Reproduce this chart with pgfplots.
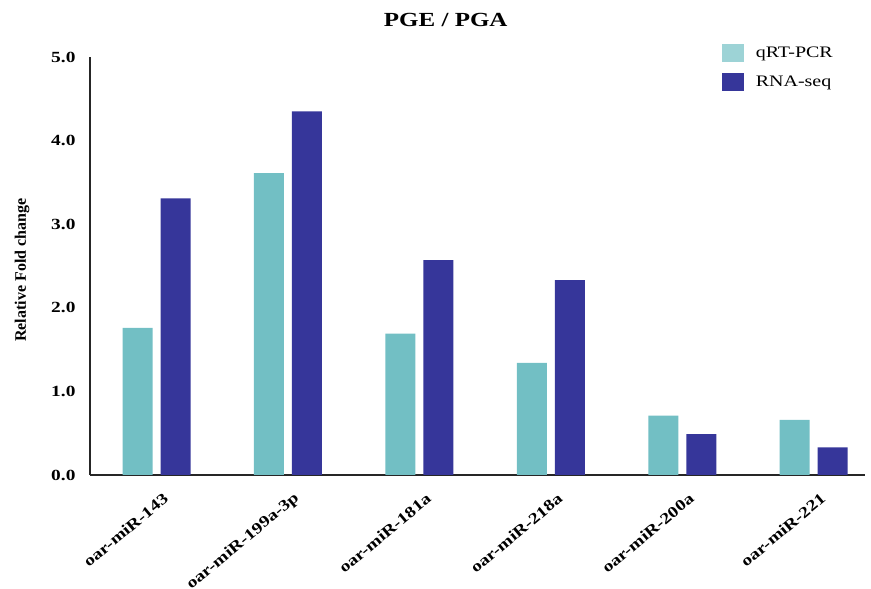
\documentclass[border=0pt]{standalone}
\usepackage{fontspec}
\setmainfont{Liberation Serif}[FakeStretch=1.25]
\newfontfamily\plainserif{Liberation Serif}
\usepackage{pgfplots}
\pgfplotsset{compat=1.18}
\definecolor{qteal}{HTML}{72BFC4}
\definecolor{qtealleg}{HTML}{9DD3D6}
\definecolor{rnavy}{HTML}{36369A}

\begin{document}
\begin{tikzpicture}
\begin{axis}[
  at={(0,0)}, anchor=south west,
  scale only axis,
  width=775pt, height=418pt,
  ybar=8pt, bar width=30pt,
  xmin=-0.506, xmax=5.39,
  ymin=0, ymax=5,
  xtick=data,
  xticklabels={oar-miR-143,oar-miR-199a-3p,oar-miR-181a,oar-miR-218a,oar-miR-200a,oar-miR-221},
  ytick={0,1,2,3,4,5},
  yticklabels={0.0,1.0,2.0,3.0,4.0,5.0},
  axis lines*=left,
  axis line style={-, line width=1.2pt, color=black!85},
  major tick length=0pt,
  tick label style={font=\fontsize{15.5}{18}\selectfont\bfseries},
  xticklabel style={xshift=12pt, yshift=-19pt, rotate=40, anchor=east},
  yticklabel style={xshift=-11pt},
  title={PGE / PGA},
  title style={font=\fontsize{20}{24}\selectfont\bfseries, at={(0.459,1)}, anchor=center, yshift=31pt},
  ylabel={Relative Fold change},
  ylabel style={font=\plainserif\fontsize{16}{18}\selectfont\bfseries, at={(rel axis cs:0,0.49)}, anchor=center, yshift=68pt},
  legend style={at={(rel axis cs:0.815,1.031)}, anchor=north west, draw=none, fill=none,
    inner sep=0pt, row sep=11pt, font=\fontsize{16}{18}\selectfont,
    nodes={inner sep=0pt, anchor=west}},
]
\addplot[fill=qteal, draw=none,
  legend image code/.code={\fill[qtealleg] (0pt,-9pt) rectangle (22pt,9pt); \path (34pt,0pt);}]
  coordinates {(0,1.76) (1,3.61) (2,1.69) (3,1.34) (4,0.71) (5,0.66)};
\addlegendentry{qRT-PCR}
\addplot[fill=rnavy, draw=none,
  legend image code/.code={\fill[rnavy] (0pt,-9pt) rectangle (22pt,9pt); \path (34pt,0pt);}]
  coordinates {(0,3.31) (1,4.35) (2,2.57) (3,2.33) (4,0.49) (5,0.33)};
\addlegendentry{RNA-seq}
\end{axis}
\pgfresetboundingbox
\path[use as bounding box] (-90pt,-114pt) rectangle (781pt,475pt);
\end{tikzpicture}
\end{document}
